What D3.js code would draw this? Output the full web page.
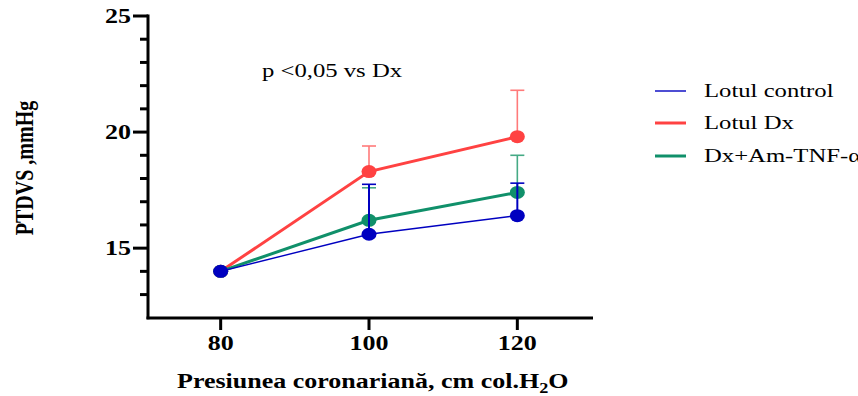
<!DOCTYPE html>
<html><head><meta charset="utf-8">
<script src="https://cdn.jsdelivr.net/npm/d3@7"></script>
<style>body{margin:0;background:#fff}svg{display:block}</style>
</head><body>
<svg id="c" width="858" height="396"></svg>
<script>
const xValues = [80, 100, 120];
const seriesNames = ["Lotul Dx", "Dx+Am-TNF-α", "Lotul control"];
const controlMean = [14.0, 15.6, 16.4];
const controlSD   = [0, 2.15, 1.4];
const dxMean      = [14.0, 18.3, 19.8];
const dxSD        = [0, 1.1, 2.0];
const amMean      = [14.0, 16.2, 17.4];
const amSD        = [0, 1.4, 1.6];
const yTicks = [15, 20, 25];
const xTicks = [80, 100, 120];
const legendOrder = ["Lotul control", "Lotul Dx", "Dx+Am-TNF-α"];

const series = [
  {name: "Lotul Dx", mean: dxMean, sd: dxSD, color: "#ff4242", err: "#ff7a7a", lw: 3},
  {name: "Dx+Am-TNF-α", mean: amMean, sd: amSD, color: "#10906a", err: "#45aa85", lw: 3},
  {name: "Lotul control", mean: controlMean, sd: controlSD, color: "#0000c0", err: "#0000c0", lw: 1.4}
];

const svg = d3.select("#c");
const x = d3.scaleLinear().domain([70, 130]).range([146.5, 591.5]);
const y = d3.scaleLinear().domain([12, 25]).range([317.8, 16]);
const serif = "'Liberation Serif','Times New Roman',serif";
const SX = 1.3;

function stext(px, py, anchor) {
  return svg.append("text").attr("transform", `translate(${px},${py}) scale(${SX},1)`)
    .attr("text-anchor", anchor || "start").attr("font-family", serif);
}

// Y axis
const yAxis = svg.append("g");
yAxis.append("line").attr("x1", 148).attr("x2", 148).attr("y1", y(25) - 1.5).attr("y2", y(12) + 1.5)
  .attr("stroke", "#000").attr("stroke-width", 3);
d3.range(13, 26).forEach(v => {
  const major = yTicks.includes(v);
  yAxis.append("line").attr("x1", major ? 133 : 140).attr("x2", 148)
    .attr("y1", y(v)).attr("y2", y(v)).attr("stroke", "#000").attr("stroke-width", 3);
});
yTicks.forEach(v => {
  stext(131, y(v), "end").attr("dy", "0.35em").attr("font-weight", "bold")
    .attr("font-size", 20).text(v);
});

// X axis
const xAxis = svg.append("g");
xAxis.append("line").attr("x1", 146.5).attr("x2", 593).attr("y1", 318).attr("y2", 318)
  .attr("stroke", "#000").attr("stroke-width", 3);
xTicks.forEach(v => {
  xAxis.append("line").attr("x1", x(v)).attr("x2", x(v)).attr("y1", 318).attr("y2", 330)
    .attr("stroke", "#000").attr("stroke-width", 3);
  stext(x(v), 350, "middle").attr("font-weight", "bold").attr("font-size", 20).text(v);
});

// Axis titles
const xt = stext(177, 388).attr("font-weight", "bold").attr("font-size", 20);
xt.append("tspan").text("Presiunea coronariană, cm col.H");
xt.append("tspan").attr("font-size", 14).attr("dy", 5).text("2");
xt.append("tspan").attr("dy", -5).text("O");

svg.append("text").attr("transform", `translate(33,168) scale(${SX},1) rotate(-90)`)
  .attr("text-anchor", "middle").attr("font-family", serif).attr("font-weight", "bold")
  .attr("font-size", 20).text("PTDVS ,mmHg");

// Annotation
stext(262, 77).attr("font-size", 19).text("p <0,05 vs Dx");

// Series
const line = d3.line().x((d, i) => x(xValues[i])).y(d => y(d));
series.forEach(s => {
  const g = svg.append("g");
  s.mean.forEach((m, i) => {
    if (s.sd[i] <= 0) return;
    const top = y(m + s.sd[i]);
    g.append("line").attr("x1", x(xValues[i])).attr("x2", x(xValues[i]))
      .attr("y1", y(m)).attr("y2", top).attr("stroke", s.err).attr("stroke-width", s.name === "Lotul control" ? 2 : 1.6);
    g.append("line").attr("x1", x(xValues[i]) - 7).attr("x2", x(xValues[i]) + 7)
      .attr("y1", top).attr("y2", top).attr("stroke", s.err).attr("stroke-width", 1.6);
  });
  g.append("path").attr("d", line(s.mean)).attr("fill", "none")
    .attr("stroke", s.color).attr("stroke-width", s.lw);
  g.selectAll("ellipse").data(s.mean).join("ellipse")
    .attr("cx", (d, i) => x(xValues[i])).attr("cy", d => y(d))
    .attr("rx", 7.5).attr("ry", 6.5).attr("fill", s.color);
});

// Legend
const legendY = [91, 123, 156];
legendOrder.forEach((name, i) => {
  const s = series.find(d => d.name === name);
  svg.append("line").attr("x1", 655).attr("x2", 686).attr("y1", legendY[i]).attr("y2", legendY[i])
    .attr("stroke", s.color).attr("stroke-width", s.lw === 3 ? 3 : 1.4);
  stext(704, legendY[i]).attr("dy", "0.33em").attr("font-size", 19).text(name);
});
</script>
</body></html>
